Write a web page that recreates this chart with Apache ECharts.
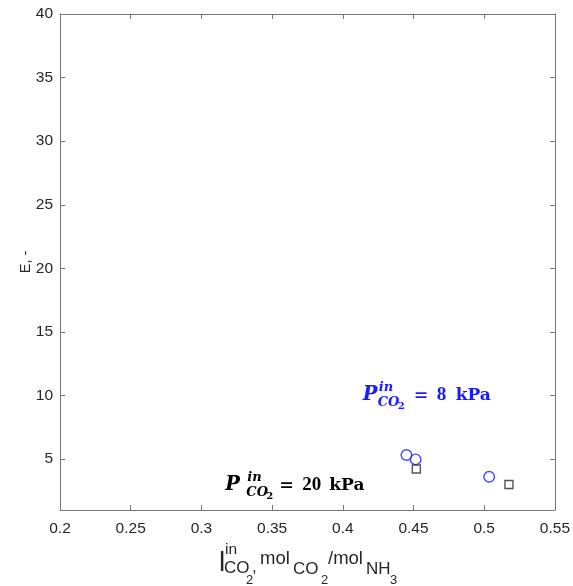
<!DOCTYPE html>
<html>
<head>
<meta charset="utf-8">
<script src="https://cdn.jsdelivr.net/npm/echarts@6/dist/echarts.min.js"></script>
<style>
  html, body { margin: 0; padding: 0; background: #fff; }
  #chart { width: 573px; height: 586px; }
</style>
</head>
<body>
<div id="chart"></div>
<script>
// Axis ranges and tick values
const xRange = [0.2, 0.55];
const xStep = 0.05;
const yRange = [1, 40];
const yTicks = [5, 10, 15, 20, 25, 30, 35, 40];

// Enhancement factor E vs. inlet CO2 loading, two inlet CO2 partial pressures
const loading8kPa = [0.445, 0.4515, 0.5035];
const E8kPa = [5.32, 4.98, 3.62];
const loading20kPa = [0.452, 0.5175];
const E20kPa = [4.22, 3.01];

const pairs = (xs, ys) => xs.map((x, i) => [x, ys[i]]);

const AXIS_COLOR = '#767676';
const TEXT_COLOR = '#262626';
const BLUE = '#1a1aff';

const chart = echarts.init(document.getElementById('chart'), null, { renderer: 'canvas' });

const tickFmt = v => String(+v.toFixed(2));

const baseX = {
  type: 'value', min: xRange[0], max: xRange[1], interval: xStep,
  axisLine: { show: true, onZero: false, lineStyle: { color: AXIS_COLOR, width: 1 } },
  axisTick: { show: true, inside: true, length: 5, lineStyle: { color: AXIS_COLOR } },
  splitLine: { show: false }
};
const baseY = {
  type: 'value', min: yRange[0], max: yRange[1],
  axisLine: { show: true, onZero: false, lineStyle: { color: AXIS_COLOR, width: 1 } },
  axisTick: { show: true, inside: true, length: 5, customValues: yTicks, lineStyle: { color: AXIS_COLOR } },
  splitLine: { show: false }
};

chart.setOption({
  animation: false,
  backgroundColor: '#fff',
  grid: { left: 60, right: 17, top: 14, bottom: 76 },
  xAxis: [
    Object.assign({}, baseX, {
      position: 'bottom',
      axisLabel: { show: true, margin: 11, formatter: tickFmt, color: TEXT_COLOR,
                   fontFamily: '"Liberation Sans", Arial, sans-serif', fontSize: 15.5 }
    }),
    Object.assign({}, baseX, { position: 'top', axisLabel: { show: false } })
  ],
  yAxis: [
    Object.assign({}, baseY, {
      position: 'left',
      name: 'E, -', nameLocation: 'middle', nameGap: 27, nameRotate: 90, nameMoveOverlap: false,
      nameTextStyle: { color: TEXT_COLOR, fontFamily: '"Liberation Sans", Arial, sans-serif', fontSize: 14.5 },
      axisLabel: { show: true, margin: 7, customValues: yTicks, color: TEXT_COLOR,
                   fontFamily: '"Liberation Sans", Arial, sans-serif', fontSize: 15.5 }
    }),
    Object.assign({}, baseY, { position: 'right', axisLabel: { show: false } })
  ],
  series: [
    {
      name: '8 kPa', type: 'scatter', xAxisIndex: 0, yAxisIndex: 0,
      data: pairs(loading8kPa, E8kPa),
      symbol: 'circle', symbolSize: 10.5,
      itemStyle: { color: 'rgba(0,0,0,0)', borderColor: BLUE, borderWidth: 1.4 },
      emphasis: { disabled: true }
    },
    {
      name: '20 kPa', type: 'scatter', xAxisIndex: 0, yAxisIndex: 0,
      data: pairs(loading20kPa, E20kPa),
      symbol: 'rect', symbolSize: 8,
      itemStyle: { color: 'rgba(0,0,0,0)', borderColor: '#2a2a2a', borderWidth: 1.4 },
      emphasis: { disabled: true }
    }
  ]
});

// Text helper: place a run of text with its left edge at x and its baseline at y
function run(text, x, y, size, font, fill) {
  return {
    type: 'text', x: x, y: y - 0.33 * size, silent: true,
    style: { text: text, font: font.replace('SIZE', size + 'px'), fill: fill,
             align: 'left', verticalAlign: 'middle' }
  };
}

// Pressure annotations, anchored in data space (left edge / baseline of "P")
const annotations = [
  { at: [0.4148, 9.55], value: '8', unitDx: [50, 73, 92], color: BLUE },
  { at: [0.3176, 2.49], value: '20', unitDx: [53, 76, 103], color: '#000' }
];

const SERIF_BI = 'italic bold SIZE "DejaVu Serif", serif';
const SERIF_B = 'bold SIZE "DejaVu Serif", serif';
const DIGITS_B = 'bold SIZE "Liberation Serif", serif';
const SANS = 'SIZE "Liberation Sans", Arial, sans-serif';

const graphics = [];
annotations.forEach(a => {
  const p = chart.convertToPixel({ gridIndex: 0 }, a.at);
  const x0 = p[0], y0 = p[1];
  const shift = a.value.length > 1 ? 6 : 0;
  graphics.push(run('P', x0 - 1, y0, 19.5, SERIF_BI, a.color));
  graphics.push(run('in', x0 + 15 + shift, y0 - 9.5, 13, SERIF_BI, a.color));
  graphics.push(run('CO', x0 + 14 + shift, y0 + 5.5, 13, SERIF_BI, a.color));
  graphics.push(run('2', x0 + 34 + shift, y0 + 8.5, 10, SERIF_B, a.color));
  graphics.push(run('=', x0 + a.unitDx[0], y0, 17.5, SERIF_B, a.color));
  graphics.push(run(a.value, x0 + a.unitDx[1], y0, 19, DIGITS_B, a.color));
  graphics.push(run('kPa', x0 + a.unitDx[2], y0, 17, SERIF_B, a.color));
});

// X-axis title: l^in_CO2, mol_CO2 / mol_NH3
const xTitle = [
  ['l', 219, 573, 28], ['in', 225, 555, 15.5], ['CO', 224, 574, 17], ['2', 246, 585, 13],
  [',', 252, 573, 17], ['mol', 260, 565, 18.5], ['CO', 293, 575, 17], ['2', 321, 585, 13],
  ['/mol', 328, 565, 18.5], ['NH', 366, 575, 17], ['3', 390, 585, 13]
];
xTitle.forEach(t => graphics.push(run(t[0], t[1], t[2], t[3], SANS, TEXT_COLOR)));

chart.setOption({ graphic: graphics });
</script>
</body>
</html>
